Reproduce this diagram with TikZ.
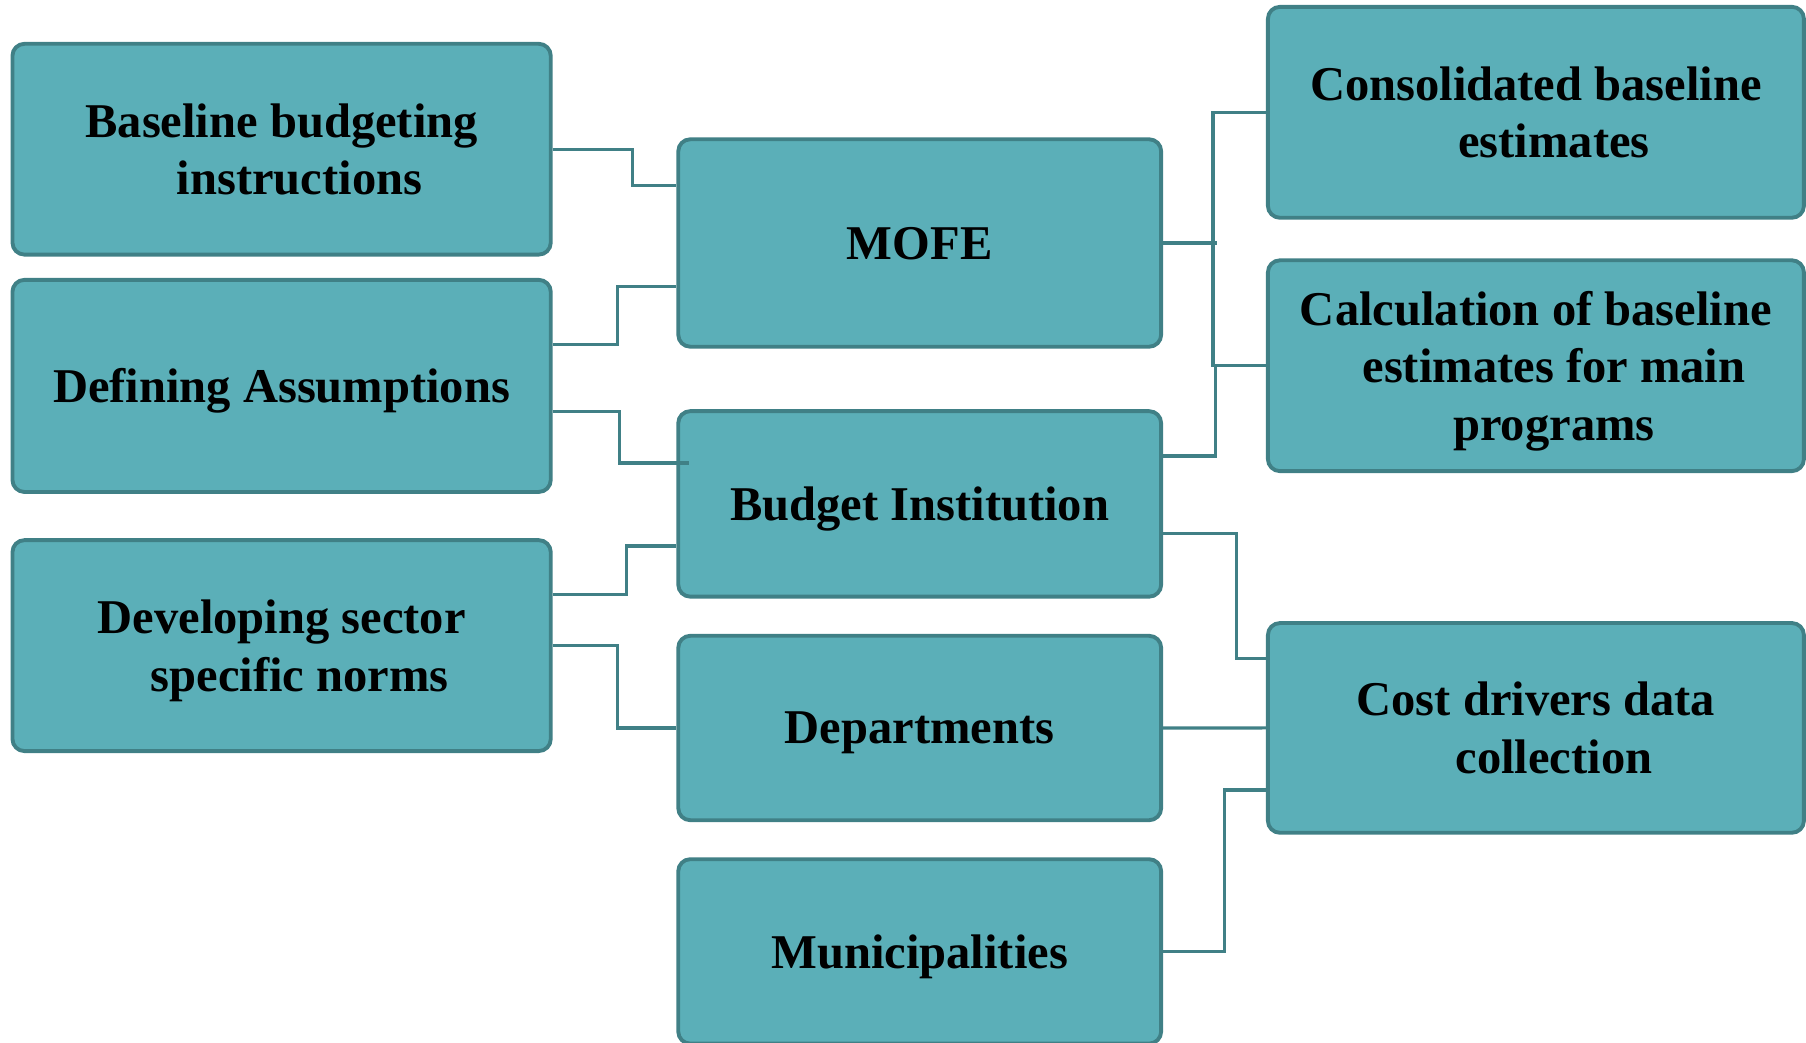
\documentclass[tikz,border=0pt]{standalone}
\usepackage{fontspec}
\setmainfont{Liberation Serif}
\usepackage{tikz}
\usetikzlibrary{calc}
\definecolor{boxfill}{RGB}{91,175,184}
\definecolor{boxline}{RGB}{64,128,134}
\newcommand{\ind}{\hspace*{0.36cm}}
\tikzset{%
  blk/.style = {rectangle,rounded corners=0.12cm,draw=boxline,fill=boxfill,
        line width=1.1pt,align=center,inner sep=0pt,text depth=0pt,
        font=\fontsize{13.8}{16.4}\selectfont\bfseries},
  conn/.style = {draw=boxline,line width=0.9pt}
}
\begin{document}
\begin{tikzpicture}[x=0.01cm,y=-0.01cm]
    \useasboundingbox (0,0) rectangle (1806,1042);
    % left column
    \node[blk,minimum width=5.38cm,minimum height=2.107cm] (base) at (281.6,149.2)
        {Baseline budgeting\\ \ind instructions};
    \node[blk,minimum width=5.38cm,minimum height=2.12cm] (assum) at (281.6,385.9)
        {Defining Assumptions};
    \node[blk,minimum width=5.38cm,minimum height=2.108cm] (norms) at (281.6,645.6)
        {Developing sector\\ \ind specific norms};
    % middle column
    \node[blk,minimum width=4.826cm,minimum height=2.073cm] (mofe) at (919.7,243)
        {MOFE};
    \node[blk,minimum width=4.826cm,minimum height=1.854cm] (inst) at (919.7,503.9)
        {Budget Institution};
    \node[blk,minimum width=4.826cm,minimum height=1.843cm] (dept) at (919.7,728)
        {Departments};
    \node[blk,minimum width=4.826cm,minimum height=1.843cm] (muni) at (919.7,951.4)
        {Municipalities};
    % right column
    \node[blk,minimum width=5.357cm,minimum height=2.108cm] (cons) at (1535.9,112.3)
        {Consolidated baseline\\ \ind estimates};
    \node[blk,minimum width=5.357cm,minimum height=2.107cm] (calc) at (1535.9,365.7)
        {Calculation of baseline\\ \ind estimates for main\\ \ind programs};
    \node[blk,minimum width=5.357cm,minimum height=2.096cm] (cost) at (1535.9,727.9)
        {Cost drivers data\\ \ind collection};
    % connectors, left side
    \draw[conn] (base.east) -- ++(79.4,0) |- ($(mofe.west)+(0,-57.6)$);
    \draw[conn] ($(assum.east)+(0,-41.5)$) -- ++(64.4,0) |- ($(mofe.west)+(0,43.8)$);
    \draw[conn] ($(assum.east)+(0,25.3)$) -- ++(66.8,0) |- ($(inst.west)+(12.6,-40.9)$);
    \draw[conn] ($(norms.east)+(0,-51.3)$) -- ++(73.7,0) |- ($(inst.west)+(0,42.1)$);
    \draw[conn] (norms.east) -- ++(64.4,0) |- (dept.west);
    % connectors, right side
    \draw[conn] (mofe.east) -- ++(54,0);
    \draw[conn] (cons.west) -- ++(-53,0) |- (calc.west);
    \draw[conn] ($(inst.east)+(0,-47.9)$) -- ++(52,0) |- (calc.west);
    \draw[conn] ($(inst.east)+(0,29.4)$) -- ++(73.7,0) |- ($(cost.west)+(0,-69.1)$);
    \draw[conn] (dept.east) -- (cost.west);
    \draw[conn] (muni.east) -- ++(61,0) |- ($(cost.west)+(0,62.1)$);
\end{tikzpicture}
\end{document}
